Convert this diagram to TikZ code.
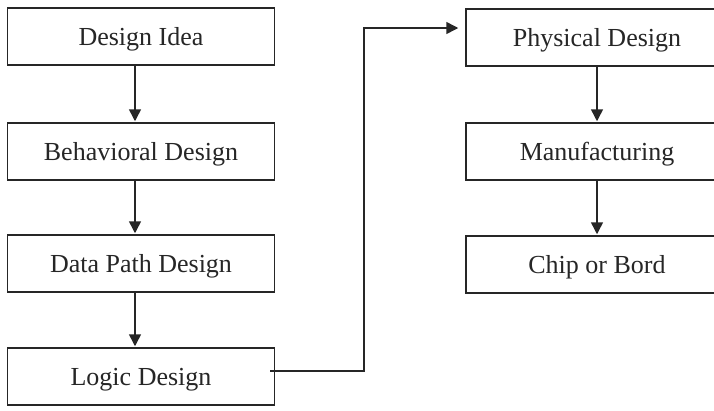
\documentclass[tikz,border=0pt]{standalone}
\usepackage{fontspec}
\setmainfont{Liberation Serif}
\usetikzlibrary{arrows.meta}
\begin{document}
\begin{tikzpicture}[x=1pt,y=-1pt,
  stagebox/.style={draw=black!85,line width=1.5pt,inner sep=0pt,
    minimum height=57pt,text height=19pt,text depth=1pt,
    font=\fontsize{26}{30}\selectfont,text=black!85},
  leftbox/.style={stagebox,minimum width=267pt},
  rightbox/.style={stagebox,minimum width=262pt},
  flow/.style={draw=black!85,line width=1.5pt,
    -{Triangle[length=12pt,width=12pt]}}]
\useasboundingbox (0,0) rectangle (714,410);
\clip (0,0) rectangle (714,410);
\fill[white] (0,0) rectangle (714,410);

% left column
\node[leftbox] (idea)  at (141,36.5)  {Design Idea};
\node[leftbox] (behav) at (141,151.5) {Behavioral Design};
\node[leftbox] (dpath) at (141,263.5) {Data Path Design};
\node[leftbox] (logic) at (141,376.5) {Logic Design};

% right column
\node[rightbox] (phys)  at (597,37.5)  {Physical Design};
\node[rightbox] (manuf) at (597,151.5) {Manufacturing};
\node[rightbox] (chip)  at (597,264.5) {Chip or Bord};

% vertical flow
\draw[flow] ([xshift=-6pt]idea.south)  -- ([xshift=-6pt,yshift=1pt]behav.north);
\draw[flow] ([xshift=-6pt]behav.south) -- ([xshift=-6pt,yshift=1pt]dpath.north);
\draw[flow] ([xshift=-6pt]dpath.south) -- ([xshift=-6pt,yshift=1pt]logic.north);
\draw[flow] (phys.south)  -- ([yshift=1pt]manuf.north);
\draw[flow] (manuf.south) -- ([yshift=1pt]chip.north);

% link between the two columns
\coordinate (turn) at (364,371);
\draw[flow] ([xshift=-5pt,yshift=5.5pt]logic.east) -- (turn)
  |- ([xshift=-7pt,yshift=9.5pt]phys.west);
\end{tikzpicture}
\end{document}
